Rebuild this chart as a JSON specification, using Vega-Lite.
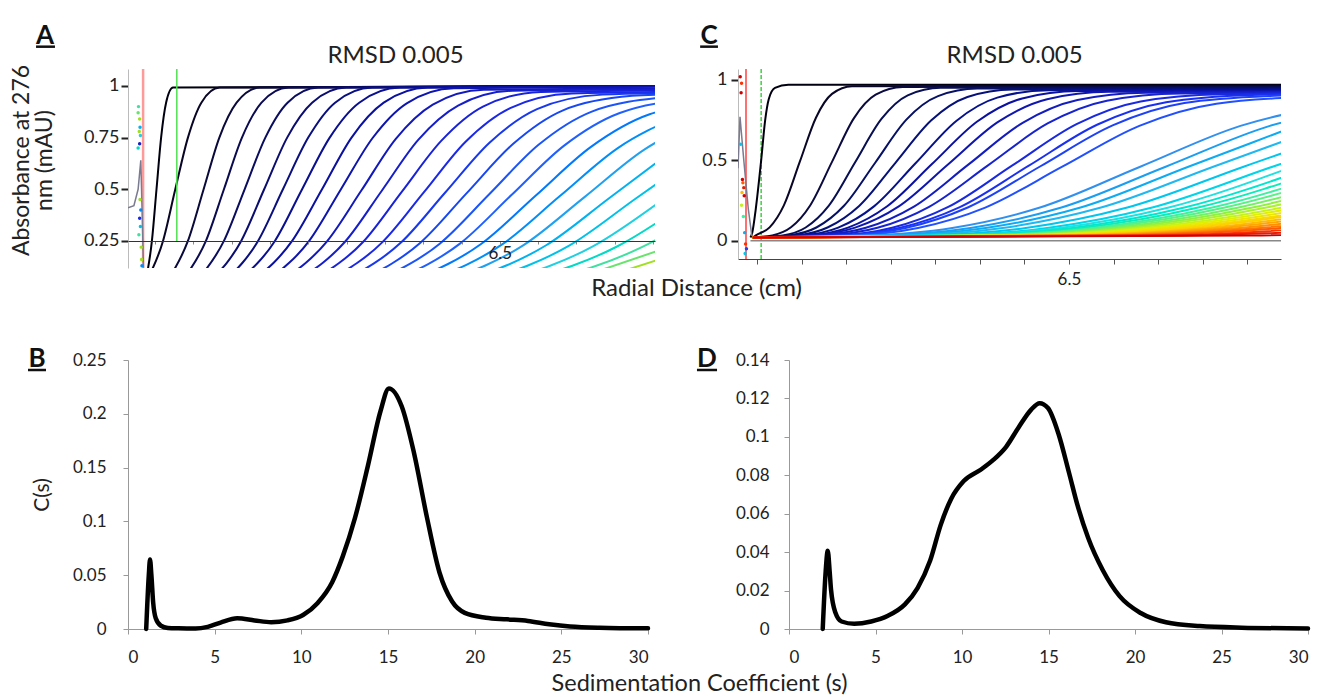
{
"$schema":"https://vega.github.io/schema/vega-lite/v6.json",
"background":"white",
"padding":{"left":10,"top":22,"right":5,"bottom":0},
"config":{"font":"Lato","view":{"stroke":null},"axis":{"grid":false,"labelOverlap":false,"labelFont":"Lato","titleFont":"Lato","labelColor":"#222","titleColor":"#222","titleFontWeight":"normal"},"title":{"font":"Lato","fontWeight":"normal","color":"#222"}},
"datasets":{
"A":[
{"k":1,"x":5.577,"y":0.067},{"k":1,"x":5.592,"y":0.25},{"k":1,"x":5.604,"y":0.5},{"k":1,"x":5.616,"y":0.75},{"k":1,"x":5.629,"y":0.919},{"k":1,"x":5.647,"y":0.992},{"k":1,"x":6.95,"y":1},
{"k":2,"x":5.581,"y":0.067},{"k":2,"x":5.621,"y":0.25},{"k":2,"x":5.653,"y":0.5},{"k":2,"x":5.686,"y":0.75},{"k":2,"x":5.721,"y":0.919},{"k":2,"x":5.769,"y":0.992},{"k":2,"x":6.95,"y":1},
{"k":3,"x":5.636,"y":0.067},{"k":3,"x":5.686,"y":0.25},{"k":3,"x":5.727,"y":0.5},{"k":3,"x":5.768,"y":0.75},{"k":3,"x":5.813,"y":0.919},{"k":3,"x":5.874,"y":0.992},{"k":3,"x":6.95,"y":1},
{"k":4,"x":5.675,"y":0.067},{"k":4,"x":5.733,"y":0.25},{"k":4,"x":5.78,"y":0.5},{"k":4,"x":5.827,"y":0.75},{"k":4,"x":5.878,"y":0.919},{"k":4,"x":5.948,"y":0.992},{"k":4,"x":6.95,"y":1},
{"k":5,"x":5.714,"y":0.067},{"k":5,"x":5.78,"y":0.25},{"k":5,"x":5.834,"y":0.5},{"k":5,"x":5.888,"y":0.75},{"k":5,"x":5.946,"y":0.919},{"k":5,"x":6.026,"y":0.992},{"k":5,"x":6.95,"y":1},
{"k":6,"x":5.751,"y":0.067},{"k":6,"x":5.825,"y":0.25},{"k":6,"x":5.885,"y":0.5},{"k":6,"x":5.945,"y":0.75},{"k":6,"x":6.01,"y":0.919},{"k":6,"x":6.099,"y":0.992},{"k":6,"x":6.95,"y":1},
{"k":7,"x":5.789,"y":0.067},{"k":7,"x":5.869,"y":0.25},{"k":7,"x":5.934,"y":0.5},{"k":7,"x":6.0,"y":0.75},{"k":7,"x":6.07,"y":0.919},{"k":7,"x":6.167,"y":0.992},{"k":7,"x":6.95,"y":1},
{"k":8,"x":5.825,"y":0.067},{"k":8,"x":5.913,"y":0.25},{"k":8,"x":5.984,"y":0.5},{"k":8,"x":6.056,"y":0.75},{"k":8,"x":6.133,"y":0.919},{"k":8,"x":6.239,"y":0.992},{"k":8,"x":6.95,"y":1},
{"k":9,"x":5.863,"y":0.067},{"k":9,"x":5.958,"y":0.25},{"k":9,"x":6.036,"y":0.5},{"k":9,"x":6.113,"y":0.75},{"k":9,"x":6.197,"y":0.919},{"k":9,"x":6.312,"y":0.992},{"k":9,"x":6.95,"y":1},
{"k":10,"x":5.9,"y":0.067},{"k":10,"x":6.002,"y":0.249},{"k":10,"x":6.085,"y":0.499},{"k":10,"x":6.168,"y":0.748},{"k":10,"x":6.257,"y":0.916},{"k":10,"x":6.38,"y":0.989},{"k":10,"x":6.95,"y":0.997},
{"k":11,"x":5.939,"y":0.066},{"k":11,"x":6.049,"y":0.248},{"k":11,"x":6.139,"y":0.495},{"k":11,"x":6.228,"y":0.743},{"k":11,"x":6.325,"y":0.91},{"k":11,"x":6.458,"y":0.982},{"k":11,"x":6.95,"y":0.99},
{"k":12,"x":5.979,"y":0.066},{"k":12,"x":6.096,"y":0.246},{"k":12,"x":6.192,"y":0.493},{"k":12,"x":6.287,"y":0.739},{"k":12,"x":6.391,"y":0.905},{"k":12,"x":6.533,"y":0.977},{"k":12,"x":6.95,"y":0.985},
{"k":13,"x":6.018,"y":0.066},{"k":13,"x":6.143,"y":0.245},{"k":13,"x":6.245,"y":0.49},{"k":13,"x":6.347,"y":0.734},{"k":13,"x":6.456,"y":0.9},{"k":13,"x":6.607,"y":0.971},{"k":13,"x":6.95,"y":0.979},
{"k":14,"x":6.06,"y":0.065},{"k":14,"x":6.193,"y":0.243},{"k":14,"x":6.302,"y":0.486},{"k":14,"x":6.41,"y":0.729},{"k":14,"x":6.527,"y":0.893},{"k":14,"x":6.688,"y":0.964},{"k":14,"x":6.95,"y":0.972},
{"k":15,"x":6.101,"y":0.065},{"k":15,"x":6.242,"y":0.242},{"k":15,"x":6.357,"y":0.483},{"k":15,"x":6.473,"y":0.725},{"k":15,"x":6.597,"y":0.888},{"k":15,"x":6.768,"y":0.958},{"k":15,"x":6.95,"y":0.966},
{"k":16,"x":6.143,"y":0.064},{"k":16,"x":6.292,"y":0.24},{"k":16,"x":6.413,"y":0.48},{"k":16,"x":6.535,"y":0.72},{"k":16,"x":6.665,"y":0.882},{"k":16,"x":6.845,"y":0.952},{"k":16,"x":6.95,"y":0.96},
{"k":17,"x":6.186,"y":0.064},{"k":17,"x":6.344,"y":0.238},{"k":17,"x":6.473,"y":0.477},{"k":17,"x":6.601,"y":0.715},{"k":17,"x":6.74,"y":0.876},{"k":17,"x":6.931,"y":0.945},
{"k":18,"x":6.23,"y":0.063},{"k":18,"x":6.396,"y":0.237},{"k":18,"x":6.531,"y":0.473},{"k":18,"x":6.667,"y":0.71},{"k":18,"x":6.813,"y":0.869},{"k":18,"x":7.014,"y":0.938},
{"k":19,"x":6.276,"y":0.063},{"k":19,"x":6.451,"y":0.235},{"k":19,"x":6.594,"y":0.47},{"k":19,"x":6.737,"y":0.704},{"k":19,"x":6.891,"y":0.863},{"k":19,"x":7.103,"y":0.931},
{"k":20,"x":6.322,"y":0.062},{"k":20,"x":6.506,"y":0.233},{"k":20,"x":6.656,"y":0.466},{"k":20,"x":6.807,"y":0.698},{"k":20,"x":6.969,"y":0.856},
{"k":21,"x":6.37,"y":0.062},{"k":21,"x":6.563,"y":0.231},{"k":21,"x":6.721,"y":0.462},{"k":21,"x":6.878,"y":0.693},{"k":21,"x":7.048,"y":0.849},
{"k":22,"x":6.419,"y":0.061},{"k":22,"x":6.621,"y":0.229},{"k":22,"x":6.786,"y":0.458},{"k":22,"x":6.951,"y":0.687},
{"k":23,"x":6.469,"y":0.061},{"k":23,"x":6.681,"y":0.227},{"k":23,"x":6.854,"y":0.454},{"k":23,"x":7.027,"y":0.681},
{"k":24,"x":6.522,"y":0.06},{"k":24,"x":6.744,"y":0.225},{"k":24,"x":6.925,"y":0.45},
{"k":25,"x":6.573,"y":0.06},{"k":25,"x":6.806,"y":0.223},{"k":25,"x":6.996,"y":0.446},
{"k":26,"x":6.628,"y":0.059},{"k":26,"x":6.872,"y":0.221},{"k":26,"x":7.071,"y":0.442},
{"k":27,"x":6.685,"y":0.059},{"k":27,"x":6.939,"y":0.219},
{"k":28,"x":6.745,"y":0.058},{"k":28,"x":7.01,"y":0.217}
],
"Am":[{"x":5.5296,"y":0.41},{"x":5.545,"y":0.42},{"x":5.556,"y":0.5},{"x":5.563,"y":0.64},{"x":5.567,"y":0.35},{"x":5.57,"y":0.12}],
"Ad":[{"k":26,"x":5.557,"y":0.9},{"k":27,"x":5.556,"y":0.87},{"k":28,"x":5.56,"y":0.84},{"k":22,"x":5.561,"y":0.8},{"k":28,"x":5.559,"y":0.78},{"k":24,"x":5.562,"y":0.76},{"k":12,"x":5.56,"y":0.72},{"k":25,"x":5.556,"y":0.7},{"k":28,"x":5.561,"y":0.45},{"k":20,"x":5.563,"y":0.4},{"k":14,"x":5.56,"y":0.36},{"k":23,"x":5.562,"y":0.32},{"k":26,"x":5.558,"y":0.28},{"k":28,"x":5.564,"y":0.22},{"k":28,"x":5.565,"y":0.16},{"k":20,"x":5.566,"y":0.13}],
"C":[
{"k":1,"x":5.785,"y":0.02},{"k":1,"x":5.789,"y":0.05},{"k":1,"x":5.797,"y":0.2},{"k":1,"x":5.809,"y":0.5},{"k":1,"x":5.818,"y":0.75},{"k":1,"x":5.826,"y":0.88},{"k":1,"x":5.84,"y":0.95},{"k":1,"x":5.87,"y":0.97},{"k":1,"x":7.0,"y":0.97},
{"k":2,"x":5.79,"y":0.02},{"k":2,"x":5.797,"y":0.033},{"k":2,"x":5.828,"y":0.083},{"k":2,"x":5.86,"y":0.22},{"k":2,"x":5.896,"y":0.493},{"k":2,"x":5.932,"y":0.765},{"k":2,"x":5.968,"y":0.913},{"k":2,"x":6.013,"y":0.961},{"k":2,"x":7.0,"y":0.965},
{"k":3,"x":5.79,"y":0.02},{"k":3,"x":5.834,"y":0.033},{"k":3,"x":5.876,"y":0.083},{"k":3,"x":5.919,"y":0.219},{"k":3,"x":5.968,"y":0.49},{"k":3,"x":6.017,"y":0.761},{"k":3,"x":6.066,"y":0.908},{"k":3,"x":6.127,"y":0.956},{"k":3,"x":7.0,"y":0.96},
{"k":4,"x":5.79,"y":0.02},{"k":4,"x":5.857,"y":0.033},{"k":4,"x":5.909,"y":0.082},{"k":4,"x":5.961,"y":0.218},{"k":4,"x":6.02,"y":0.488},{"k":4,"x":6.079,"y":0.757},{"k":4,"x":6.138,"y":0.904},{"k":4,"x":6.212,"y":0.951},{"k":4,"x":7.0,"y":0.955},
{"k":5,"x":5.79,"y":0.02},{"k":5,"x":5.871,"y":0.033},{"k":5,"x":5.933,"y":0.082},{"k":5,"x":5.995,"y":0.217},{"k":5,"x":6.065,"y":0.485},{"k":5,"x":6.135,"y":0.753},{"k":5,"x":6.206,"y":0.899},{"k":5,"x":6.294,"y":0.946},{"k":5,"x":7.0,"y":0.95},
{"k":6,"x":5.79,"y":0.02},{"k":6,"x":5.888,"y":0.033},{"k":6,"x":5.958,"y":0.082},{"k":6,"x":6.029,"y":0.216},{"k":6,"x":6.11,"y":0.483},{"k":6,"x":6.191,"y":0.749},{"k":6,"x":6.272,"y":0.894},{"k":6,"x":6.373,"y":0.941},{"k":6,"x":7.0,"y":0.945},
{"k":7,"x":5.79,"y":0.02},{"k":7,"x":5.902,"y":0.033},{"k":7,"x":5.982,"y":0.081},{"k":7,"x":6.063,"y":0.215},{"k":7,"x":6.155,"y":0.48},{"k":7,"x":6.247,"y":0.745},{"k":7,"x":6.339,"y":0.89},{"k":7,"x":6.454,"y":0.936},{"k":7,"x":7.0,"y":0.94},
{"k":8,"x":5.79,"y":0.02},{"k":8,"x":5.916,"y":0.033},{"k":8,"x":6.004,"y":0.081},{"k":8,"x":6.092,"y":0.214},{"k":8,"x":6.193,"y":0.478},{"k":8,"x":6.294,"y":0.741},{"k":8,"x":6.395,"y":0.885},{"k":8,"x":6.521,"y":0.931},{"k":8,"x":7.0,"y":0.935},
{"k":9,"x":5.79,"y":0.02},{"k":9,"x":5.923,"y":0.033},{"k":9,"x":6.02,"y":0.081},{"k":9,"x":6.118,"y":0.213},{"k":9,"x":6.229,"y":0.475},{"k":9,"x":6.34,"y":0.737},{"k":9,"x":6.451,"y":0.88},{"k":9,"x":6.59,"y":0.926},{"k":9,"x":7.0,"y":0.93},
{"k":10,"x":5.79,"y":0.02},{"k":10,"x":5.937,"y":0.033},{"k":10,"x":6.044,"y":0.08},{"k":10,"x":6.152,"y":0.212},{"k":10,"x":6.274,"y":0.473},{"k":10,"x":6.396,"y":0.733},{"k":10,"x":6.519,"y":0.875},{"k":10,"x":6.672,"y":0.921},{"k":10,"x":7.0,"y":0.925},
{"k":11,"x":5.79,"y":0.02},{"k":11,"x":5.954,"y":0.033},{"k":11,"x":6.07,"y":0.08},{"k":11,"x":6.186,"y":0.211},{"k":11,"x":6.319,"y":0.47},{"k":11,"x":6.452,"y":0.729},{"k":11,"x":6.585,"y":0.871},{"k":11,"x":6.751,"y":0.916},{"k":11,"x":7.0,"y":0.92},
{"k":12,"x":5.79,"y":0.02},{"k":12,"x":5.977,"y":0.032},{"k":12,"x":6.103,"y":0.08},{"k":12,"x":6.229,"y":0.21},{"k":12,"x":6.373,"y":0.468},{"k":12,"x":6.517,"y":0.725},{"k":12,"x":6.661,"y":0.866},{"k":12,"x":6.841,"y":0.911},{"k":12,"x":7.0,"y":0.915},
{"k":13,"x":5.79,"y":0.02},{"k":13,"x":5.984,"y":0.032},{"k":13,"x":6.119,"y":0.079},{"k":13,"x":6.255,"y":0.209},{"k":13,"x":6.409,"y":0.465},{"k":13,"x":6.563,"y":0.721},{"k":13,"x":6.718,"y":0.861},{"k":13,"x":6.911,"y":0.906},{"k":13,"x":7.0,"y":0.91},
{"k":14,"x":5.79,"y":0.02},{"k":14,"x":5.992,"y":0.032},{"k":14,"x":6.133,"y":0.079},{"k":14,"x":6.274,"y":0.208},{"k":14,"x":6.436,"y":0.463},{"k":14,"x":6.598,"y":0.717},{"k":14,"x":6.759,"y":0.856},{"k":14,"x":6.961,"y":0.901},{"k":14,"x":7.0,"y":0.905},
{"k":15,"x":5.79,"y":0.02},{"k":15,"x":6.01,"y":0.032},{"k":15,"x":6.161,"y":0.079},{"k":15,"x":6.312,"y":0.206},{"k":15,"x":6.485,"y":0.46},{"k":15,"x":6.658,"y":0.714},{"k":15,"x":6.831,"y":0.852},{"k":15,"x":7.047,"y":0.896},
{"k":16,"x":5.79,"y":0.02},{"k":16,"x":6.042,"y":0.032},{"k":16,"x":6.238,"y":0.079},{"k":16,"x":6.435,"y":0.206},{"k":16,"x":6.66,"y":0.46},{"k":16,"x":6.885,"y":0.714},{"k":16,"x":7.11,"y":0.852},
{"k":17,"x":5.79,"y":0.02},{"k":17,"x":6.075,"y":0.032},{"k":17,"x":6.279,"y":0.079},{"k":17,"x":6.483,"y":0.206},{"k":17,"x":6.717,"y":0.46},{"k":17,"x":6.951,"y":0.714},{"k":17,"x":7.184,"y":0.852},
{"k":18,"x":5.79,"y":0.02},{"k":18,"x":6.101,"y":0.032},{"k":18,"x":6.313,"y":0.079},{"k":18,"x":6.526,"y":0.206},{"k":18,"x":6.768,"y":0.46},{"k":18,"x":7.01,"y":0.714},
{"k":19,"x":5.79,"y":0.02},{"k":19,"x":6.131,"y":0.032},{"k":19,"x":6.351,"y":0.079},{"k":19,"x":6.572,"y":0.206},{"k":19,"x":6.824,"y":0.46},{"k":19,"x":7.076,"y":0.714},
{"k":20,"x":5.79,"y":0.02},{"k":20,"x":6.175,"y":0.032},{"k":20,"x":6.403,"y":0.079},{"k":20,"x":6.631,"y":0.206},{"k":20,"x":6.892,"y":0.46},{"k":20,"x":7.153,"y":0.714},
{"k":21,"x":5.79,"y":0.02},{"k":21,"x":6.216,"y":0.032},{"k":21,"x":6.451,"y":0.079},{"k":21,"x":6.687,"y":0.206},{"k":21,"x":6.957,"y":0.46},{"k":21,"x":7.227,"y":0.714},
{"k":22,"x":5.79,"y":0.02},{"k":22,"x":6.236,"y":0.032},{"k":22,"x":6.48,"y":0.079},{"k":22,"x":6.724,"y":0.206},{"k":22,"x":7.002,"y":0.46},
{"k":23,"x":5.79,"y":0.02},{"k":23,"x":6.255,"y":0.032},{"k":23,"x":6.507,"y":0.079},{"k":23,"x":6.759,"y":0.206},{"k":23,"x":7.047,"y":0.46},
{"k":24,"x":5.79,"y":0.02},{"k":24,"x":6.271,"y":0.032},{"k":24,"x":6.53,"y":0.079},{"k":24,"x":6.79,"y":0.206},{"k":24,"x":7.087,"y":0.46},
{"k":25,"x":5.79,"y":0.02},{"k":25,"x":6.288,"y":0.032},{"k":25,"x":6.555,"y":0.079},{"k":25,"x":6.822,"y":0.206},{"k":25,"x":7.128,"y":0.46},
{"k":26,"x":5.79,"y":0.02},{"k":26,"x":6.299,"y":0.032},{"k":26,"x":6.574,"y":0.079},{"k":26,"x":6.85,"y":0.206},{"k":26,"x":7.164,"y":0.46},
{"k":27,"x":5.79,"y":0.02},{"k":27,"x":6.315,"y":0.032},{"k":27,"x":6.598,"y":0.079},{"k":27,"x":6.881,"y":0.206},{"k":27,"x":7.204,"y":0.46},
{"k":28,"x":5.79,"y":0.02},{"k":28,"x":6.33,"y":0.032},{"k":28,"x":6.621,"y":0.079},{"k":28,"x":6.912,"y":0.206},{"k":28,"x":7.245,"y":0.46},
{"k":29,"x":5.79,"y":0.02},{"k":29,"x":6.346,"y":0.032},{"k":29,"x":6.644,"y":0.079},{"k":29,"x":6.943,"y":0.206},{"k":29,"x":7.285,"y":0.46},
{"k":30,"x":5.79,"y":0.02},{"k":30,"x":6.364,"y":0.032},{"k":30,"x":6.671,"y":0.079},{"k":30,"x":6.978,"y":0.206},{"k":30,"x":7.328,"y":0.46},
{"k":31,"x":5.79,"y":0.02},{"k":31,"x":6.38,"y":0.032},{"k":31,"x":6.694,"y":0.079},{"k":31,"x":7.009,"y":0.206},{"k":31,"x":7.368,"y":0.46},
{"k":32,"x":5.79,"y":0.02},{"k":32,"x":6.399,"y":0.032},{"k":32,"x":6.721,"y":0.079},{"k":32,"x":7.044,"y":0.206},{"k":32,"x":7.413,"y":0.46},
{"k":33,"x":5.79,"y":0.02},{"k":33,"x":6.42,"y":0.032},{"k":33,"x":6.75,"y":0.079},{"k":33,"x":7.08,"y":0.206},{"k":33,"x":7.458,"y":0.46},
{"k":34,"x":5.79,"y":0.02},{"k":34,"x":6.44,"y":0.032},{"k":34,"x":6.778,"y":0.079},{"k":34,"x":7.117,"y":0.206},
{"k":35,"x":5.79,"y":0.02},{"k":35,"x":6.466,"y":0.032},{"k":35,"x":6.812,"y":0.079},{"k":35,"x":7.158,"y":0.206},
{"k":36,"x":5.79,"y":0.02},{"k":36,"x":6.491,"y":0.032},{"k":36,"x":6.845,"y":0.079},{"k":36,"x":7.199,"y":0.206},
{"k":37,"x":5.79,"y":0.02},{"k":37,"x":6.523,"y":0.032},{"k":37,"x":6.884,"y":0.079},{"k":37,"x":7.246,"y":0.206},
{"k":38,"x":5.79,"y":0.02},{"k":38,"x":6.559,"y":0.032},{"k":38,"x":6.929,"y":0.079},{"k":38,"x":7.299,"y":0.206},
{"k":39,"x":5.79,"y":0.02},{"k":39,"x":6.598,"y":0.032},{"k":39,"x":6.975,"y":0.079},{"k":39,"x":7.353,"y":0.206},
{"k":40,"x":5.79,"y":0.02},{"k":40,"x":6.662,"y":0.032},{"k":40,"x":7.047,"y":0.079},{"k":40,"x":7.433,"y":0.206},
{"k":41,"x":5.79,"y":0.02},{"k":41,"x":6.75,"y":0.032},{"k":41,"x":7.143,"y":0.079},{"k":41,"x":7.536,"y":0.206},
{"k":42,"x":5.79,"y":0.02},{"k":42,"x":6.908,"y":0.032},{"k":42,"x":7.301,"y":0.079},{"k":42,"x":7.694,"y":0.206}
],
"Cm":[{"x":5.757,"y":0.45},{"x":5.7615,"y":0.77},{"x":5.77,"y":0.5},{"x":5.78,"y":0.2},{"x":5.788,"y":0.03}],
"Cd":[{"k":42,"x":5.762,"y":1.02},{"k":40,"x":5.765,"y":0.98},{"k":42,"x":5.764,"y":0.92},{"k":20,"x":5.763,"y":0.6},{"k":42,"x":5.767,"y":0.38},{"k":39,"x":5.768,"y":0.36},{"k":41,"x":5.77,"y":0.33},{"k":35,"x":5.766,"y":0.3},{"k":42,"x":5.771,"y":0.28},{"k":30,"x":5.765,"y":0.22},{"k":25,"x":5.769,"y":0.15},{"k":18,"x":5.772,"y":0.05},{"k":40,"x":5.774,"y":-0.02},{"k":14,"x":5.776,"y":-0.05},{"k":20,"x":5.773,"y":-0.08}],
"B":[{"s":1.05,"c":0},{"s":1.2,"c":0.05},{"s":1.27,"c":0.0645},{"s":1.35,"c":0.05},{"s":1.45,"c":0.025},{"s":1.6,"c":0.01},{"s":1.9,"c":0.003},{"s":2.3,"c":0.001},{"s":2.9,"c":0.0006},{"s":3.9,"c":0.0004},{"s":4.6,"c":0.002},{"s":5.34,"c":0.006},{"s":6.3,"c":0.0099},{"s":7.3,"c":0.008},{"s":8.26,"c":0.0063},{"s":9.2,"c":0.008},{"s":10.1,"c":0.013},{"s":10.93,"c":0.024},{"s":11.78,"c":0.0435},{"s":12.39,"c":0.0675},{"s":13.1,"c":0.1035},{"s":13.84,"c":0.1516},{"s":14.57,"c":0.2026},{"s":15.05,"c":0.2236},{"s":15.79,"c":0.207},{"s":16.5,"c":0.1636},{"s":17.25,"c":0.1035},{"s":17.97,"c":0.0525},{"s":18.7,"c":0.0255},{"s":19.43,"c":0.015},{"s":20.65,"c":0.0105},{"s":21.86,"c":0.009},{"s":23.07,"c":0.0075},{"s":24.3,"c":0.0045},{"s":25.5,"c":0.0024},{"s":27.2,"c":0.0012},{"s":30,"c":0.0006}],
"D":[{"s":1.95,"c":0},{"s":2.12,"c":0.03},{"s":2.24,"c":0.0407},{"s":2.35,"c":0.03},{"s":2.43,"c":0.0204},{"s":2.68,"c":0.0086},{"s":3.04,"c":0.0039},{"s":3.77,"c":0.0027},{"s":4.75,"c":0.0039},{"s":5.72,"c":0.0069},{"s":6.7,"c":0.0128},{"s":7.43,"c":0.0213},{"s":8.16,"c":0.0356},{"s":8.77,"c":0.0542},{"s":9.37,"c":0.0677},{"s":10.1,"c":0.077},{"s":11.08,"c":0.0829},{"s":11.81,"c":0.088},{"s":12.54,"c":0.0947},{"s":13.27,"c":0.1049},{"s":14.0,"c":0.1142},{"s":14.49,"c":0.1175},{"s":14.97,"c":0.115},{"s":15.58,"c":0.1015},{"s":16.19,"c":0.0812},{"s":16.68,"c":0.0643},{"s":17.29,"c":0.0475},{"s":18.14,"c":0.0306},{"s":19.11,"c":0.0171},{"s":20.33,"c":0.0083},{"s":21.79,"c":0.0035},{"s":23.74,"c":0.0015},{"s":26.17,"c":0.0007},{"s":30,"c":0.0003}]
},
"spacing":44,
"vconcat":[
{"bounds":"flush","spacing":0,
 "resolve":{"scale":{"color":"independent","x":"independent","y":"independent"}},
 "hconcat":[
 {"width":527,"height":199,
  "layer":[
   {"data":{"values":[{}]},"mark":{"type":"rule","color":"#ff9a9a","strokeWidth":2.5},"encoding":{"x":{"datum":5.569,"type":"quantitative"}}},
   {"data":{"name":"A"},"mark":{"type":"line","clip":true,"interpolate":"monotone","strokeWidth":2},
    "encoding":{
     "x":{"field":"x","type":"quantitative","scale":{"domain":[5.5296,6.905],"nice":false,"zero":false},
          "axis":{"title":null,"values":[5.6,5.7,5.8,5.9,6,6.1,6.2,6.3,6.4,6.5,6.6,6.7,6.8,6.9],"tickCount":20,"labelExpr":"abs(datum.value-6.5)<0.001 ? '6.5' : ''","labelOverlap":false,"offset":-27,"zindex":1,"domainColor":"#333","domainWidth":1.2,"tickColor":"#888","tickSize":3,"labelFontSize":17,"labelPadding":1}},
     "y":{"field":"y","type":"quantitative","scale":{"domain":[0.119,1.082],"nice":false,"zero":false},
          "axis":{"values":[0.25,0.5,0.75,1],"tickCount":10,"format":".2~f","labelOverlap":false,"title":["Absorbance at 276","nm (mAU)"],"titleFontSize":23,"titleLineHeight":23,"titlePadding":27,"titleY":91,"tickColor":"#222","tickWidth":2,"tickSize":7,"domainColor":"#bbb","labelFontSize":18,"labelPadding":2}},
     "color":{"field":"k","type":"quantitative","scale":{"domain":[1,4,9,14,18,21,24,26,28],"range":["#000010","#0a0a50","#0a10a0","#1a28e8","#2060ff","#20a0f0","#20d0e0","#40e0a0","#a0e020"]},"legend":null},
     "detail":{"field":"k","type":"nominal"}}},
   {"data":{"name":"Am"},"mark":{"type":"line","clip":true,"color":"#7a7a90","strokeWidth":1.5},"encoding":{"x":{"field":"x","type":"quantitative"},"y":{"field":"y","type":"quantitative"}}},
   {"data":{"name":"Ad"},"mark":{"type":"circle","size":12,"opacity":1,"clip":true},"encoding":{"x":{"field":"x","type":"quantitative"},"y":{"field":"y","type":"quantitative"},"color":{"field":"k","type":"quantitative","legend":null}}},
   {"data":{"values":[{}]},"mark":{"type":"rule","color":"#50e050","strokeWidth":1.5},"encoding":{"x":{"datum":5.657,"type":"quantitative"},"y":{"datum":0.25,"type":"quantitative"},"y2":{"datum":1.082}}},
   {"data":{"values":[{}]},"mark":{"type":"text","fontSize":24,"color":"#222","baseline":"alphabetic","align":"center"},"encoding":{"x":{"datum":6.228,"type":"quantitative"},"y":{"datum":1.111,"type":"quantitative"},"text":{"value":"RMSD 0.005"}}},
   {"data":{"values":[{}]},"mark":{"type":"text","fontSize":26,"fontWeight":"bold","color":"#111","baseline":"alphabetic","align":"center"},"encoding":{"x":{"datum":5.313,"type":"quantitative"},"y":{"datum":1.203,"type":"quantitative"},"text":{"value":"A"}}},
   {"data":{"values":[{}]},"mark":{"type":"rule","color":"#111","strokeWidth":2.5},"encoding":{"x":{"datum":5.2896,"type":"quantitative"},"x2":{"datum":5.339},"y":{"datum":1.19,"type":"quantitative"}}}
  ]},
 {"width":83,"height":199,
  "title":{"text":"Radial  Distance (cm)","orient":"bottom","anchor":"middle","frame":"group","offset":9,"fontSize":24},
  "data":{"values":[{}]},"mark":{"type":"point","opacity":0}},
 {"width":543,"height":190,
  "layer":[
   {"data":{"values":[{}]},"mark":{"type":"rule","color":"#ff7070","strokeWidth":2},"encoding":{"x":{"datum":5.775,"type":"quantitative"}}},
   {"data":{"values":[{}]},"mark":{"type":"rule","color":"#40d040","strokeWidth":1.5,"strokeDash":[4,2]},"encoding":{"x":{"datum":5.809,"type":"quantitative"}}},
   {"data":{"values":[{}]},"mark":{"type":"rule","color":"#888","strokeWidth":1.5},"encoding":{"y":{"datum":0,"type":"quantitative"},"x":{"datum":5.785,"type":"quantitative"},"x2":{"datum":6.976}}},
   {"data":{"name":"C"},"mark":{"type":"line","clip":true,"interpolate":"monotone","strokeWidth":2},
    "encoding":{
     "x":{"field":"x","type":"quantitative","scale":{"domain":[5.757,6.976],"nice":false,"zero":false},
          "axis":{"title":null,"values":[5.8,5.9,6,6.1,6.2,6.3,6.4,6.5,6.6,6.7,6.8,6.9],"tickCount":20,"labelExpr":"abs(datum.value-6.5)<0.001 ? '6.5' : ''","labelOverlap":false,"domainColor":"#444","domainWidth":1.2,"tickColor":"#555","tickSize":5,"labelFontSize":17,"labelPadding":7}},
     "y":{"field":"y","type":"quantitative","scale":{"domain":[-0.114,1.068],"nice":false,"zero":false},
          "axis":{"values":[0,0.5,1],"tickCount":10,"format":".1~f","labelOverlap":false,"title":null,"tickColor":"#222","tickWidth":2,"tickSize":7,"domainColor":"#bbb","labelFontSize":18,"labelPadding":4}},
     "color":{"field":"k","type":"quantitative","scale":{"domain":[1,3,8,13,15,16,19,22,25,28,31,34,37,40,42],"range":["#000010","#0a0a40","#0a10a0","#1a30f0","#2050ff","#3090f0","#20b8f0","#20e0e0","#40f0a0","#90f040","#e0f000","#ffd000","#ff9000","#ff3000","#d00000"]},"legend":null},
     "detail":{"field":"k","type":"nominal"}}},
   {"data":{"name":"Cm"},"mark":{"type":"line","clip":true,"color":"#7a7a90","strokeWidth":1.5},"encoding":{"x":{"field":"x","type":"quantitative"},"y":{"field":"y","type":"quantitative"}}},
   {"data":{"name":"Cd"},"mark":{"type":"circle","size":12,"opacity":1,"clip":true},"encoding":{"x":{"field":"x","type":"quantitative"},"y":{"field":"y","type":"quantitative"},"color":{"field":"k","type":"quantitative","legend":null}}},
   {"data":{"values":[{}]},"mark":{"type":"text","fontSize":24,"color":"#222","baseline":"alphabetic","align":"center"},"encoding":{"x":{"datum":6.378,"type":"quantitative"},"y":{"datum":1.105,"type":"quantitative"},"text":{"value":"RMSD 0.005"}}},
   {"data":{"values":[{}]},"mark":{"type":"text","fontSize":26,"fontWeight":"bold","color":"#111","baseline":"alphabetic","align":"center"},"encoding":{"x":{"datum":5.692,"type":"quantitative"},"y":{"datum":1.224,"type":"quantitative"},"text":{"value":"C"}}},
   {"data":{"values":[{}]},"mark":{"type":"rule","color":"#111","strokeWidth":2.5},"encoding":{"x":{"datum":5.672,"type":"quantitative"},"x2":{"datum":5.712},"y":{"datum":1.207,"type":"quantitative"}}}
  ]}
 ]},
{"bounds":"flush","spacing":0,
 "resolve":{"scale":{"x":"independent","y":"independent"}},
 "hconcat":[
 {"width":520,"height":269,
  "layer":[
   {"data":{"name":"B"},"mark":{"type":"line","interpolate":"monotone","strokeWidth":4.5,"color":"#000","strokeJoin":"round","strokeCap":"round"},
    "encoding":{
     "x":{"field":"s","type":"quantitative","scale":{"domain":[0,30],"nice":false,"zero":false},"axis":{"values":[0,5,10,15,20,25,30],"tickCount":12,"labelOverlap":false,"title":null,"domainColor":"#999","tickColor":"#999","tickSize":5,"labelFontSize":17,"labelPadding":15}},
     "y":{"field":"c","type":"quantitative","scale":{"domain":[0,0.25],"nice":false},"axis":{"values":[0,0.05,0.1,0.15,0.2,0.25],"tickCount":12,"format":".2~f","labelOverlap":false,"title":"C(s)","titleFontSize":21,"titlePadding":20,"domainColor":"#999","tickColor":"#999","tickSize":5,"labelFontSize":17,"labelPadding":17}}}},
   {"data":{"values":[{}]},"mark":{"type":"text","fontSize":26,"fontWeight":"bold","color":"#111","baseline":"alphabetic","align":"center"},"encoding":{"x":{"datum":-5.25,"type":"quantitative"},"y":{"datum":0.2435,"type":"quantitative"},"text":{"value":"B"}}},
   {"data":{"values":[{}]},"mark":{"type":"rule","color":"#111","strokeWidth":2.5},"encoding":{"x":{"datum":-5.77,"type":"quantitative"},"x2":{"datum":-4.73},"y":{"datum":0.2407,"type":"quantitative"}}}
  ]},
 {"width":141,"height":269,
  "title":{"text":"Sedimentation Coefficient (s)","orient":"bottom","anchor":"middle","frame":"group","offset":43,"dx":-19,"fontSize":23.5},
  "data":{"values":[{}]},"mark":{"type":"point","opacity":0}},
 {"width":519,"height":269,
  "layer":[
   {"data":{"name":"D"},"mark":{"type":"line","interpolate":"monotone","strokeWidth":4.5,"color":"#000","strokeJoin":"round","strokeCap":"round"},
    "encoding":{
     "x":{"field":"s","type":"quantitative","scale":{"domain":[0,30],"nice":false,"zero":false},"axis":{"values":[0,5,10,15,20,25,30],"tickCount":12,"labelOverlap":false,"title":null,"domainColor":"#999","tickColor":"#999","tickSize":5,"labelFontSize":17,"labelPadding":15}},
     "y":{"field":"c","type":"quantitative","scale":{"domain":[0,0.14],"nice":false},"axis":{"values":[0,0.02,0.04,0.06,0.08,0.1,0.12,0.14],"tickCount":12,"format":".2~f","labelOverlap":false,"title":null,"domainColor":"#999","tickColor":"#999","tickSize":5,"labelFontSize":17,"labelPadding":15}}}},
   {"data":{"values":[{}]},"mark":{"type":"text","fontSize":26,"fontWeight":"bold","color":"#111","baseline":"alphabetic","align":"center"},"encoding":{"x":{"datum":-4.74,"type":"quantitative"},"y":{"datum":0.1364,"type":"quantitative"},"text":{"value":"D"}}},
   {"data":{"values":[{}]},"mark":{"type":"rule","color":"#111","strokeWidth":2.5},"encoding":{"x":{"datum":-5.32,"type":"quantitative"},"x2":{"datum":-4.16},"y":{"datum":0.1348,"type":"quantitative"}}}
  ]}
 ]}
]
}
